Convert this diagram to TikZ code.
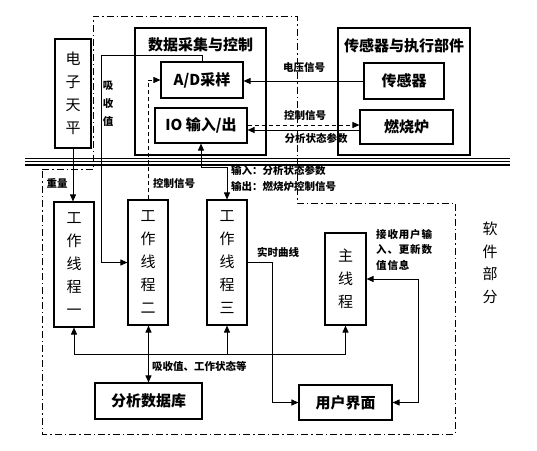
\documentclass[tikz,border=0pt]{standalone}
\usepackage{fontspec}
\newfontfamily\cjk{Noto Sans CJK SC}
\usetikzlibrary{arrows.meta}
\begin{document}
\begin{tikzpicture}[x=1pt,y=-1pt,
  box/.style={draw,line width=1.1pt,inner sep=0pt,font=\cjk\bfseries\fontsize{15}{18}\selectfont},
  vbox/.style={draw,line width=1.1pt,inner sep=0pt,align=center,font=\cjk\fontsize{15}{23}\selectfont},
  frame/.style={draw,line width=1.1pt,inner sep=0pt},
  title/.style={inner sep=0pt,font=\cjk\bfseries\fontsize{15}{18}\selectfont},
  lbl/.style={inner sep=0pt,font=\cjk\bfseries\fontsize{10.5}{15.5}\selectfont},
  conn/.style={line width=0.9pt},
  arr/.style={conn,-{Triangle[length=7pt,width=6pt]}},
  darr/.style={conn,{Triangle[length=7pt,width=6pt]}-{Triangle[length=7pt,width=6pt]}},
  dsh/.style={dash pattern=on 4pt off 3pt},
  dashdot/.style={line width=1pt,dash pattern=on 7pt off 3pt on 1.5pt off 3pt},
]
\useasboundingbox (0,0) rectangle (537,450);

% dash-dot region
\draw[dashdot] (42,169) -- (93,169) -- (93,16) -- (297,16) -- (297,203) -- (455,203) -- (455,434) -- (42,434) -- cycle;

% upper frames
\node[frame,minimum width=131pt,minimum height=127pt] (sj) at (200.5,91.5) {};
\node[title] (sjt) at (200.5,45) {数据采集与控制};
\node[frame,minimum width=132pt,minimum height=127pt] (cz) at (404,91.5) {};
\node[title] (czt) at (404,46) {传感器与执行部件};

\node[vbox,minimum width=36pt,minimum height=109pt] (dz) at (73,93.5) {电\\子\\天\\平};
\node[box,minimum width=82pt,minimum height=36pt] (ad) at (202,80) {A/D采样};
\node[box,minimum width=92pt,minimum height=35pt] (io) at (201,125.5) {IO 输入/出};
\node[box,minimum width=80pt,minimum height=36pt] (cgq) at (404,81) {传感器};
\node[box,minimum width=93pt,minimum height=34pt] (rsl) at (406.5,127) {燃烧炉};

% threads
\node[vbox,minimum width=40pt,minimum height=125pt] (t1) at (74,264.5) {工\\作\\线\\程\\一};
\node[vbox,minimum width=40pt,minimum height=125pt] (t2) at (148,262.5) {工\\作\\线\\程\\二};
\node[vbox,minimum width=40pt,minimum height=125pt] (t3) at (227,262.5) {工\\作\\线\\程\\三};
\node[vbox,minimum width=41pt,minimum height=92pt] (mt) at (345.5,279) {主\\线\\程};
\node[box,minimum width=107pt,minimum height=36pt] (db) at (148.5,401) {分析数据库};
\node[box,minimum width=93pt,minimum height=35pt] (ui) at (345.5,402.5) {用户界面};

\node[inner sep=0pt,align=center,font=\cjk\fontsize{15}{22.5}\selectfont] (rj) at (490,263) {软\\件\\部\\分};

% connectors upper
\draw[arr] (dz.south) -- (dz.south |- t1.north);
\node[lbl] (lzl) at (57,183) {重量};

\draw[arr] (ad.north) |- (101,55) |- (t2.west);
\node[lbl,align=center,font=\cjk\bfseries\fontsize{10.5}{18}\selectfont] (lxs) at (108,104) {吸\\收\\值};

\draw[arr,dsh] (t2.north) |- (ad.west);
\node[lbl,anchor=west] (lkz1) at (153,183) {控制信号};

\draw[arr] (cgq.west) -- (cgq.west -| ad.east);
\node[lbl] (ldy) at (304,68) {电压信号};

\draw[arr,dsh] (io.east |- 0,125) -- (rsl.west |- 0,125);
\node[lbl] (lkz2) at (305,115) {控制信号};
\draw[arr] (rsl.west |- 0,130) -- (io.east |- 0,130);
\node[lbl] (lfx) at (316,138) {分析状态参数};

\draw[darr] (io.south) |- (t3.north |- 0,167) -- (t3.north);
\node[lbl,anchor=west] (lin) at (231,170) {输入：分析状态参数};
\node[lbl,anchor=west] (lout) at (231,187) {输出：燃烧炉控制信号};

% bus
\coordinate (b1) at (t1.south |- 0,354);
\coordinate (b3) at (t3.south |- 0,354);
\coordinate (bm) at (mt.south |- 0,354);
\draw[conn] (b1) -- (bm);
\draw[arr] (b1) -- (t1.south);
\draw[arr] (b3) -- (t3.south);
\draw[arr] (bm) -- (mt.south);
\draw[darr] (db.north) -- (db.north |- t2.south);
\node[lbl,anchor=west] (lxs2) at (152,366) {吸收值、工作状态等};

\draw[arr] (t3.east) -- (272,262.5) |- (ui.west);
\node[lbl] (lss) at (278,252) {实时曲线};

\draw[darr] (mt.east) -- (418,279) |- (ui.east);
\node[lbl,anchor=north west,align=left,font=\cjk\bfseries\fontsize{10.5}{15.5}\selectfont\addfontfeature{LetterSpace=8}] (ljs) at (376,229) {接收用户输\\入、更新数\\值信息};

% triple separator line
\draw[line width=1.4pt] (25,158.3) -- (510,158.3);
\draw[line width=1.4pt] (25,161.6) -- (510,161.6);
\draw[line width=1.4pt] (25,164.9) -- (510,164.9);
\end{tikzpicture}
\end{document}
